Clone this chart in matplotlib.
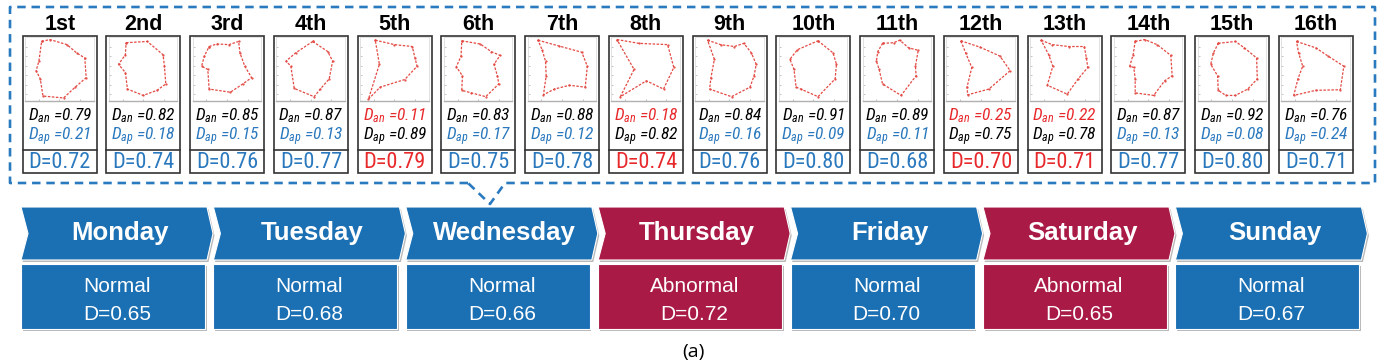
import matplotlib
matplotlib.use('Agg')
import matplotlib.pyplot as plt
from matplotlib.patches import Polygon, Rectangle
from matplotlib import font_manager

# pick a condensed face if the machine has one
fonts = font_manager.fontManager.ttflist
names = {f.name for f in fonts}
NARROW, NSTRETCH, NSCALE = 'Liberation Sans', 'normal', 0.85
if 'Liberation Sans Narrow' in names:
    NARROW, NSCALE = 'Liberation Sans Narrow', 1.0
elif 'Roboto Condensed' in names:
    NARROW, NSCALE = 'Roboto Condensed', 1.0
else:
    for fam in ['Noto Sans', 'Open Sans', 'DejaVu Sans', 'Roboto']:
        if any(f.name == fam and 'condensed' in str(f.stretch) for f in fonts):
            NARROW, NSTRETCH, NSCALE = fam, 'condensed', 1.0
            break
SANS = 'Liberation Sans'

plt.rcParams['mathtext.fontset'] = 'custom'
plt.rcParams['mathtext.it'] = '%s:italic:stretch=%s' % (NARROW, NSTRETCH)
plt.rcParams['mathtext.rm'] = '%s:stretch=%s' % (NARROW, NSTRETCH)

# ---- data ----
runs = ['1st', '2nd', '3rd', '4th', '5th', '6th', '7th', '8th',
        '9th', '10th', '11th', '12th', '13th', '14th', '15th', '16th']
d_an = [0.79, 0.82, 0.85, 0.87, 0.11, 0.83, 0.88, 0.18,
        0.84, 0.91, 0.89, 0.25, 0.22, 0.87, 0.92, 0.76]
d_ap = [0.21, 0.18, 0.15, 0.13, 0.89, 0.17, 0.12, 0.82,
        0.16, 0.09, 0.11, 0.75, 0.78, 0.13, 0.08, 0.24]
d_run = [0.72, 0.74, 0.76, 0.77, 0.79, 0.75, 0.78, 0.74,
         0.76, 0.80, 0.68, 0.70, 0.71, 0.77, 0.80, 0.71]

# polygon outlines of each run (0-100 box)
shapes = [
    [(24, 93), (36, 96), (61, 88), (75, 75), (87, 67), (89, 36), (73, 21), (56, 4), (26, 7), (22, 34), (16, 47), (20, 62)],
    [(25, 91), (56, 93), (79, 72), (81, 54), (83, 26), (70, 16), (50, 8), (27, 18), (24, 44), (14, 57), (24, 72)],
    [(24, 85), (35, 89), (53, 88), (67, 93), (69, 75), (76, 54), (86, 36), (73, 26), (55, 13), (24, 18), (22, 49), (13, 54), (17, 70)],
    [(53, 93), (75, 77), (82, 62), (77, 34), (64, 18), (55, 6), (26, 19), (21, 54), (14, 62), (28, 75)],
    [(22, 95), (50, 88), (76, 85), (80, 67), (83, 54), (65, 33), (29, 21), (12, 2), (28, 57)],
    [(26, 94), (53, 89), (69, 77), (82, 71), (73, 57), (78, 39), (80, 26), (61, 6), (40, 12), (26, 16), (27, 39), (18, 53), (25, 70)],
    [(15, 95), (45, 86), (79, 76), (87, 54), (84, 21), (61, 24), (39, 18), (23, 9), (27, 39), (26, 62), (21, 80)],
    [(8, 96), (40, 90), (82, 88), (91, 52), (76, 18), (51, 31), (13, 6), (33, 49)],
    [(18, 95), (37, 88), (57, 85), (71, 90), (82, 75), (89, 57), (86, 39), (80, 21), (53, 6), (21, 18), (23, 36), (28, 65)],
    [(57, 94), (79, 75), (84, 57), (82, 34), (57, 6), (32, 18), (25, 21), (22, 49), (16, 65), (27, 80)],
    [(29, 90), (45, 91), (54, 95), (67, 83), (81, 79), (77, 54), (78, 39), (56, 8), (29, 26), (24, 49), (20, 62), (22, 77)],
    [(21, 94), (49, 84), (78, 70), (93, 47), (62, 18), (31, 9), (30, 21), (37, 52), (28, 75)],
    [(16, 95), (32, 88), (56, 85), (79, 85), (82, 67), (84, 52), (70, 34), (54, 10), (25, 24), (33, 54), (27, 72)],
    [(31, 93), (45, 96), (63, 88), (83, 71), (85, 39), (74, 31), (58, 8), (31, 12), (31, 34), (29, 52), (23, 54), (28, 72)],
    [(30, 90), (55, 93), (68, 83), (86, 67), (87, 34), (73, 18), (55, 8), (41, 8), (30, 16), (29, 39), (19, 57), (23, 75)],
    [(22, 93), (50, 83), (68, 70), (91, 54), (86, 17), (50, 16), (18, 8), (24, 34), (31, 54), (25, 75)],
]

days = ['Monday', 'Tuesday', 'Wednesday', 'Thursday', 'Friday', 'Saturday', 'Sunday']
day_status = ['Normal', 'Normal', 'Normal', 'Abnormal', 'Normal', 'Abnormal', 'Normal']
day_d = [0.65, 0.68, 0.66, 0.72, 0.70, 0.65, 0.67]

BLUE_TXT = '#2a78bd'
RED_TXT = '#e8292c'
DASH = '#2a7abf'
DAY_BLUE = '#1b6fb3'
DAY_RED = '#a91b46'

W, H = 1385, 364
fig = plt.figure(figsize=(W / 100, H / 100), dpi=100)
ax = fig.add_axes([0, 0, 1, 1])
ax.set_xlim(0, W)
ax.set_ylim(H, 0)
ax.axis('off')

# dashed callout border
bx = [468, 10, 10, 1375, 1375, 505, 490, 468]
by = [183, 183, 7, 7, 183, 183, 204, 183]
ax.plot(bx, by, color=DASH, lw=1.9, ls=(0, (3.2, 2.2)), solid_capstyle='butt')

# run panels
pitch = 83.75
for i, name in enumerate(runs):
    x0 = 22.7 + i * pitch
    w = 74
    abnormal = d_an[i] < 0.5
    ax.add_patch(Rectangle((x0, 35.7), w, 137, fill=False, ec='#333333', lw=1.2))
    ax.plot([x0, x0 + w], [150, 150], color='#333333', lw=1.2)
    ax.text(x0 + w / 2, 24, name, ha='center', va='center', fontsize=15.5,
            fontweight='bold', family=SANS, color='black')
    c1, c2 = ('black', BLUE_TXT) if not abnormal else (RED_TXT, 'black')
    ax.text(x0 + w / 2, 116, r'$D_{an}$ =%.2f' % d_an[i], ha='center', va='center',
            fontsize=12.5 * NSCALE, style='italic', family=NARROW, stretch=NSTRETCH, color=c1)
    ax.text(x0 + w / 2, 137, r'$D_{ap}$ =%.2f' % d_ap[i], ha='center', va='center',
            fontsize=12.5 * NSCALE, style='italic', family=NARROW, stretch=NSTRETCH, color=c2)
    ax.text(x0 + w / 2, 162, 'D=%.2f' % d_run[i], ha='center', va='center',
            fontsize=16 * NSCALE, family=NARROW, stretch=NSTRETCH,
            color=RED_TXT if abnormal else BLUE_TXT)

    ins = fig.add_axes([(x0 + 2.5) / W, 1 - 100.5 / H, 68.5 / W, 63.5 / H])
    xs = [p[0] for p in shapes[i]] + [shapes[i][0][0]]
    ys = [p[1] for p in shapes[i]] + [shapes[i][0][1]]
    ins.plot(xs, ys, color='#e34a44', lw=0.9, ls=(0, (2, 1.2)), marker='.', ms=1.2)
    ins.set_xlim(0, 100)
    ins.set_ylim(0, 100)
    ins.set_xticks([20, 50, 80])
    ins.set_yticks([10, 25, 40, 55, 70, 85])
    ins.tick_params(length=1.5, width=0.5, color='#aaaaaa', direction='in',
                    labelleft=False, labelbottom=False)
    for s in ins.spines.values():
        s.set_color('#dddddd')
        s.set_linewidth(0.6)
    ins.spines['bottom'].set_color('#b0b0b0')
    ins.spines['bottom'].set_linewidth(1.0)

# day chevrons
dpitch = 192.4
for i, day in enumerate(days):
    x0 = 21 + i * dpitch
    col = DAY_RED if day_status[i] == 'Abnormal' else DAY_BLUE
    pts = [(x0, 207), (x0 + 186, 207), (x0 + 192, 233.5), (x0 + 186, 260),
           (x0, 260), (x0 + 7, 233.5)]
    shadow = [(px + 1.5, py + 2) for px, py in pts]
    ax.add_patch(Polygon(shadow, closed=True, fc='#8a8a8a', ec='none', alpha=0.6))
    ax.add_patch(Polygon(pts, closed=True, fc=col, ec='white', lw=0.8))
    ax.text(x0 + 99, 233, day, ha='center', va='center', fontsize=18.5,
            fontweight='bold', family=SANS, color='white')

    ax.add_patch(Rectangle((x0 + 1.5, 266), 184, 65, fc='#8a8a8a', ec='none', alpha=0.6))
    ax.add_patch(Rectangle((x0, 264), 184, 65, fc=col, ec='white', lw=0.8))
    ax.text(x0 + 96, 287, day_status[i], ha='center', va='center', fontsize=15,
            family=SANS, color='white')
    ax.text(x0 + 96, 315, 'D=%.2f' % day_d[i], ha='center', va='center', fontsize=15,
            family=SANS, color='white')

ax.text(693, 352, '(a)', ha='center', va='center', fontsize=14, family='Open Sans',
        color='black')

fig.savefig('out.png', dpi=100)
